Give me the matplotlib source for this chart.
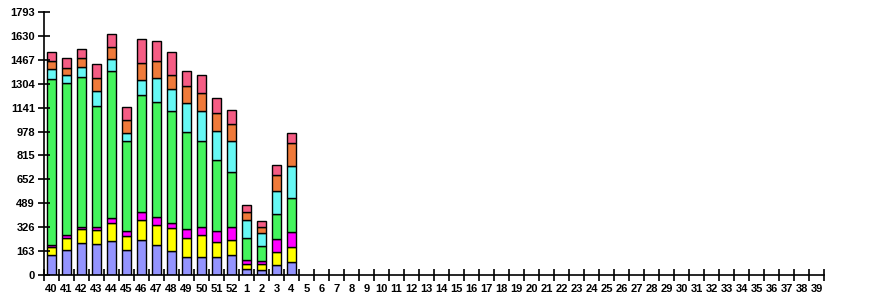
import matplotlib
matplotlib.use("Agg")
import matplotlib.pyplot as plt
import numpy as np

# Week labels along the x axis (52 slots)
weeks = [str(w) for w in range(40, 53)] + [str(w) for w in range(1, 40)]

# Cumulative tops of each stacked segment (weeks 40..4)
top_blue = [136, 170, 218, 211, 231, 170, 240, 204, 165, 125, 125, 125, 136, 41, 34, 68, 88]
top_yellow = [195, 252, 313, 308, 354, 265, 374, 345, 320, 252, 272, 224, 238, 77, 75, 156, 190]
top_magenta = [204, 272, 329, 326, 388, 302, 431, 394, 356, 313, 326, 302, 326, 104, 95, 245, 292]
top_green = [1333, 1306, 1347, 1149, 1387, 911, 1224, 1177, 1115, 973, 911, 782, 700, 252, 197, 415, 524]
top_cyan = [1406, 1360, 1415, 1251, 1474, 966, 1326, 1340, 1265, 1170, 1115, 979, 911, 374, 286, 571, 741]
top_orange = [1458, 1408, 1476, 1340, 1555, 1054, 1442, 1455, 1360, 1285, 1238, 1102, 1027, 431, 326, 680, 898]
top_pink = [1517, 1476, 1537, 1435, 1639, 1143, 1605, 1591, 1517, 1390, 1360, 1204, 1124, 476, 370, 748, 966]

yticks = [0, 163, 326, 489, 652, 815, 978, 1141, 1304, 1467, 1630, 1793]

colors = ["#9494ff", "#ffff00", "#ff00ff", "#44f45c", "#66f8f4", "#f07a3a", "#f55c84"]
tops = [top_blue, top_yellow, top_magenta, top_green, top_cyan, top_orange, top_pink]

plt.rcParams["font.family"] = ["Liberation Sans", "DejaVu Sans"]

fig = plt.figure(figsize=(8.7, 3.0), dpi=100)
ax = fig.add_axes([44 / 870, 24.7 / 300, 780 / 870, 263.6 / 300])

x = np.arange(len(top_blue))
prev = np.zeros(len(top_blue))
for col, t in zip(colors, tops):
    t = np.array(t, dtype=float)
    ax.bar(x, t - prev, bottom=prev, width=0.57, color=col,
           edgecolor="black", linewidth=1.0, align="center")
    prev = t

ax.set_xlim(-0.5, len(weeks) - 0.5)
ax.set_ylim(0, 1793)

ax.spines["top"].set_visible(False)
ax.spines["right"].set_visible(False)
for s in ("left", "bottom"):
    ax.spines[s].set_linewidth(1.2)

ax.set_yticks(yticks)
ax.set_yticklabels([str(v) for v in yticks], fontsize=8, fontweight="bold")
ax.tick_params(axis="y", direction="inout", length=9, width=1.2, pad=2)

ax.set_xticks(np.arange(len(weeks)))
ax.set_xticklabels(weeks, fontsize=8, fontweight="bold")
ax.tick_params(axis="x", which="major", length=0, pad=6)
ax.set_xticks(np.arange(len(weeks) + 1) - 0.5, minor=True)
ax.tick_params(axis="x", which="minor", direction="inout", length=9, width=1.2)

fig.savefig("out.png", dpi=100)
